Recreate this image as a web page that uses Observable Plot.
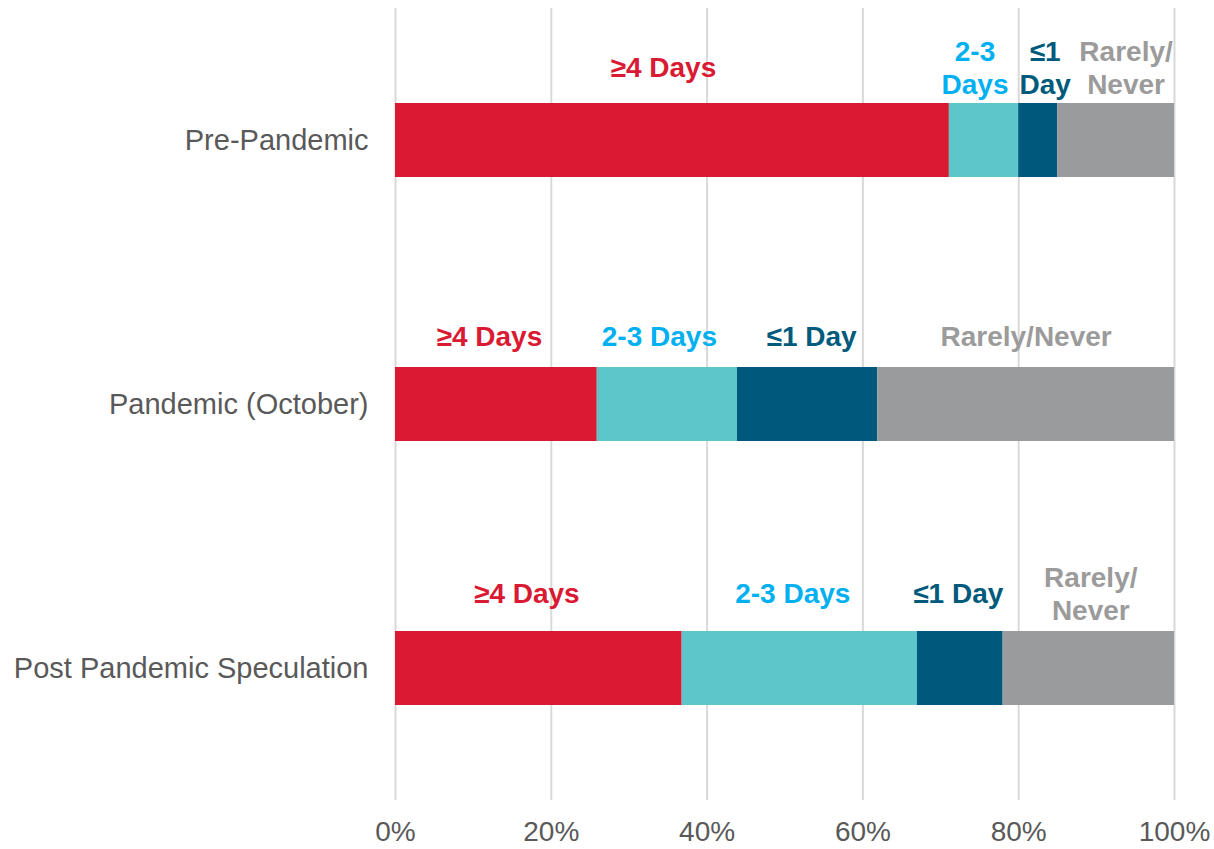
<!DOCTYPE html>
<html>
<head>
<meta charset="utf-8">
<script src="https://cdn.jsdelivr.net/npm/d3@7"></script>
<script src="https://cdn.jsdelivr.net/npm/@observablehq/plot@0.6"></script>
<style>
  html, body { margin: 0; padding: 0; background: #ffffff; }
  #chart svg { display: block; }
</style>
</head>
<body>
<div id="chart"></div>
<script>
const periods = ["Pre-Pandemic", "Pandemic (October)", "Post Pandemic Speculation"];
const categories = ["≥4 Days", "2-3 Days", "≤1 Day", "Rarely/Never"];
const barColors = ["#DA1A32", "#5CC6CB", "#00587C", "#9A9B9D"];
const labelColors = ["#DA1A32", "#00B0F0", "#005A7C", "#9B9B9B"];
const prePandemic = [71.1, 8.9, 5.0, 15.0];
const pandemicOctober = [25.9, 18.0, 18.0, 38.1];
const postPandemic = [36.8, 30.2, 11.0, 22.0];
const labelsPre = ["≥4 Days", "2-3\nDays", "≤1\nDay", "Rarely/\nNever"];
const labelsPandemic = ["≥4 Days", "2-3 Days", "≤1 Day", "Rarely/Never"];
const labelsPost = ["≥4 Days", "2-3 Days", "≤1 Day", "Rarely/\nNever"];
const xTicks = [0, 20, 40, 60, 80, 100];

const series = [prePandemic, pandemicOctober, postPandemic];
const labelSets = [labelsPre, labelsPandemic, labelsPost];
const rows = [];
periods.forEach((p, i) => {
  categories.forEach((c, j) => {
    rows.push({period: p, category: c, value: series[i][j], label: labelSets[i][j]});
  });
});

// annotation offsets (pixels) of the labels, per period and category
const labelDx = [[-9, -9, 7, 10], [-7, -8, 4, 0], [-12, -7, -2, 2]];
const labelDy = [-74, -69, -76];

const labelMarks = [];
periods.forEach((p, i) => {
  categories.forEach((c, j) => {
    labelMarks.push(Plot.text(rows, Plot.stackX({
      x: "value", y: "period", z: "category", order: categories,
      text: d => (d.period === p && d.category === c) ? d.label : null,
      fill: labelColors[j],
      fontSize: 28, fontWeight: "bold", lineAnchor: "middle", lineHeight: 1.18,
      dx: labelDx[i][j], dy: labelDy[i]
    })));
  });
});

const chart = Plot.plot({
  width: 1214,
  height: 849,
  marginLeft: 395,
  marginRight: 40,
  marginTop: 8,
  marginBottom: 49,
  style: {fontFamily: "'Liberation Sans', Arial, sans-serif", background: "#ffffff"},
  x: {domain: [0, 100], ticks: xTicks, tickFormat: d => d + "%", label: null},
  y: {domain: periods, padding: 0, label: null},
  color: {domain: categories, range: barColors},
  marks: [
    Plot.gridX(xTicks, {stroke: "#D9D9D9", strokeOpacity: 1, strokeWidth: 2}),
    Plot.barX(rows, Plot.stackX({
      x: "value", y: "period", fill: "category", order: categories,
      insetTop: 95, insetBottom: 95
    })),
    ...labelMarks,
    Plot.axisX({ticks: xTicks, tickFormat: d => d + "%", tickSize: 0, tickPadding: 21, fontSize: 28, color: "#595959", label: null}),
    Plot.axisY({tickSize: 0, tickPadding: 27, fontSize: 29, color: "#595959", label: null})
  ]
});
document.getElementById("chart").appendChild(chart);
</script>
</body>
</html>
